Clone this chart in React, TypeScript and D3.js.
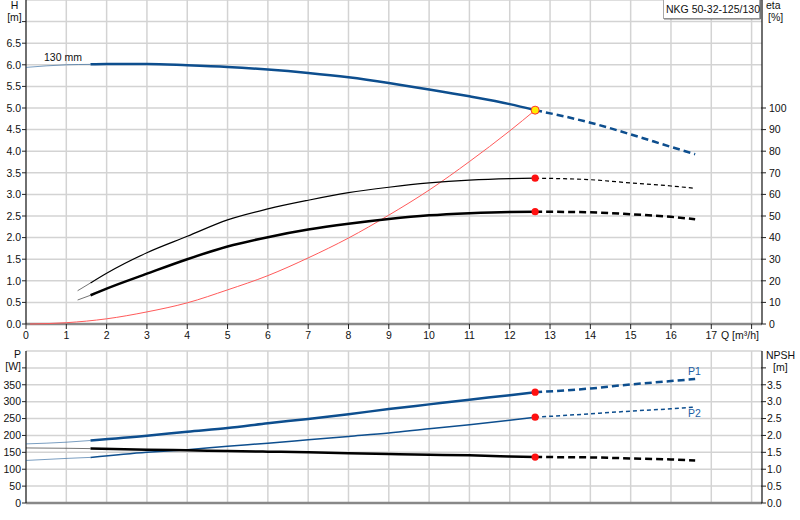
import React from "react";
import * as d3 from "d3";

// ---------- data ----------
const title = "NKG 50-32-125/130";
const impellerLabel = "130 mm";

const qTicks = [0, 1, 2, 3, 4, 5, 6, 7, 8, 9, 10, 11, 12, 13, 14, 15, 16, 17];
const qGrid = [1, 2, 3, 4, 5, 6, 7, 8, 9, 10, 11, 12, 13, 14, 15, 16, 17, 18];
const hTicks = [0, 0.5, 1, 1.5, 2, 2.5, 3, 3.5, 4, 4.5, 5, 5.5, 6, 6.5];
const hGrid = [0.5, 1, 1.5, 2, 2.5, 3, 3.5, 4, 4.5, 5, 5.5, 6, 6.5, 7, 7.5];
const etaTicks = [0, 10, 20, 30, 40, 50, 60, 70, 80, 90, 100];
const pTicks = [0, 50, 100, 150, 200, 250, 300, 350];
const pGrid = [50, 100, 150, 200, 250, 300, 350, 400, 450];
const npshTicks = [0, 0.5, 1, 1.5, 2, 2.5, 3, 3.5];

const qMinRec = 1.6; // start of recommended range
const qDuty = 12.63; // duty point flow

// Head curve (m)
const qHead = [0, 1, 1.6, 2, 3, 4, 5, 6, 7, 8, 9, 10, 11, 12, 12.63, 14, 15, 16, 16.6];
const head = [5.94, 6.0, 6.01, 6.02, 6.02, 5.99, 5.95, 5.89, 5.81, 5.71, 5.58, 5.43, 5.27, 5.09, 4.95, 4.66, 4.39, 4.1, 3.93];

// Efficiency curves (%)
const qEta = [1.28, 1.6, 2, 3, 4, 5, 6, 7, 8, 9, 10, 11, 12, 12.63, 14, 15, 16, 16.6];
const etaPump = [15.4, 19, 23.5, 33, 40.6, 48.2, 53.3, 57.3, 60.8, 63.3, 65.3, 66.6, 67.3, 67.5, 66.8, 65.3, 63.9, 62.8];
const etaTotal = [11.1, 13.3, 16.4, 23.3, 30, 35.9, 40.2, 43.7, 46.4, 48.6, 50.3, 51.3, 51.9, 52.0, 51.7, 50.8, 49.6, 48.5];

// System curve (m)
const qSys = [0.1, 1, 2, 3, 4, 5, 6, 7, 8, 9, 10, 11, 12, 12.63];
const hSys = [0, 0.03, 0.12, 0.28, 0.49, 0.79, 1.12, 1.53, 1.99, 2.52, 3.1, 3.76, 4.47, 4.95];

// Power & NPSH
const qLow = [0, 1, 1.6, 3, 4, 5, 6, 7, 8, 9, 10, 11, 12, 12.63, 14, 15, 16, 16.6];
const p1 = [175, 180, 185, 199, 211, 222, 236, 249, 263, 278, 292, 306, 319, 328, 339, 351, 361, 367];
const p2 = [126, 132, 135, 150, 158, 168, 177, 187, 197, 207, 220, 232, 245, 254, 264, 272, 279, 284];
const npsh = [1.63, 1.62, 1.61, 1.58, 1.56, 1.54, 1.52, 1.5, 1.47, 1.45, 1.43, 1.41, 1.38, 1.36, 1.35, 1.32, 1.29, 1.26];

// ---------- scales ----------
const x = d3.scaleLinear().domain([0, 18]).range([26, 751.6]);
const yH = d3.scaleLinear().domain([0, 7.5]).range([324, 0]);
const yEta = d3.scaleLinear().domain([0, 150]).range([324, 0]);
const yP = d3.scaleLinear().domain([0, 450]).range([503, 351]);
const yN = d3.scaleLinear().domain([0, 4.5]).range([503, 351]);

const BLUE = "#0d4e8e";
const FONT = "'Liberation Sans', Arial, sans-serif";
const X0 = 26;
const X1 = 762;

type Pt = [number, number];

function pick(qs: number[], vs: number[], lo: number, hi: number): Pt[] {
  const out: Pt[] = [];
  qs.forEach((q, i) => {
    if (q >= lo - 1e-9 && q <= hi + 1e-9) out.push([q, vs[i]]);
  });
  return out;
}

function mkLine(ys: d3.ScaleLinear<number, number>) {
  return d3
    .line<Pt>()
    .x((d) => x(d[0]))
    .y((d) => ys(d[1]))
    .curve(d3.curveMonotoneX);
}

function Curve({
  qs,
  vs,
  ys,
  color,
  width,
  dash,
}: {
  qs: number[];
  vs: number[];
  ys: d3.ScaleLinear<number, number>;
  color: string;
  width: number;
  dash: string;
}) {
  const ln = mkLine(ys);
  const start = pick(qs, vs, -1, qMinRec);
  const main = pick(qs, vs, qMinRec, qDuty);
  const tail = pick(qs, vs, qDuty, 100);
  return (
    <g fill="none">
      {start.length > 1 && (
        <path d={ln(start) || ""} stroke={color} strokeWidth={1} opacity={0.55} />
      )}
      <path d={ln(main) || ""} stroke={color} strokeWidth={width} />
      <path d={ln(tail) || ""} stroke={color} strokeWidth={width} strokeDasharray={dash} />
    </g>
  );
}

function valAt(qs: number[], vs: number[], q: number) {
  const i = qs.indexOf(q);
  return vs[i];
}

export default function App() {
  const fmt1 = d3.format(".1f");
  const sysLine = mkLine(yH);
  const gridColor = "#d3d3d3";
  return (
    <svg
      width={800}
      height={520}
      style={{ position: "absolute", left: 0, top: 0, background: "#fff" }}
      fontFamily={FONT}
      fontSize={10.5}
    >
      <rect width={800} height={520} fill="#fff" />

      {/* ---------- top chart grid ---------- */}
      <g stroke={gridColor} strokeWidth={1.5}>
        {qGrid.map((q) => (
          <line key={"tv" + q} x1={x(q)} x2={x(q)} y1={0} y2={324} />
        ))}
        {hGrid.map((h) => (
          <line key={"th" + h} x1={X0} x2={X1} y1={yH(h)} y2={yH(h)} />
        ))}
      </g>

      {/* ---------- bottom chart grid ---------- */}
      <g stroke={gridColor} strokeWidth={1.5}>
        {qGrid.map((q) => (
          <line key={"bv" + q} x1={x(q)} x2={x(q)} y1={351} y2={503} />
        ))}
        {pGrid.map((p) => (
          <line key={"bh" + p} x1={X0} x2={X1} y1={yP(p)} y2={yP(p)} />
        ))}
      </g>

      {/* ---------- axes top ---------- */}
      <line x1={X0} x2={X1} y1={324} y2={324} stroke="#888" strokeWidth={2.5} />
      <line x1={X0} x2={X0} y1={0} y2={324} stroke="#222" strokeWidth={1.3} />
      <line x1={X1} x2={X1} y1={0} y2={324} stroke="#222" strokeWidth={1.3} />
      <g stroke="#222" strokeWidth={1}>
        {[...qTicks, 18].map((q) => (
          <line key={"qt" + q} x1={x(q)} x2={x(q)} y1={324} y2={329} />
        ))}
        {[...hTicks, 7].map((h) => (
          <line key={"ht" + h} x1={X0 - 4} x2={X0} y1={yH(h)} y2={yH(h)} />
        ))}
        {etaTicks.map((e) => (
          <line key={"et" + e} x1={X1 - 1} x2={X1 + 4} y1={yEta(e)} y2={yEta(e)} />
        ))}
      </g>
      <g fill="#111">
        {qTicks.map((q) => (
          <text key={"ql" + q} x={x(q)} y={339} textAnchor="middle">
            {q}
          </text>
        ))}
        <text x={721} y={339}>
          Q [m³/h]
        </text>
        {hTicks.map((h) => (
          <text key={"hl" + h} x={21} y={yH(h) + 3.8} textAnchor="end">
            {fmt1(h)}
          </text>
        ))}
        {etaTicks.map((e) => (
          <text key={"el" + e} x={769} y={yEta(e) + 3.8}>
            {e}
          </text>
        ))}
        <text x={14.5} y={9} textAnchor="middle">H</text>
        <text x={14.5} y={21} textAnchor="middle">[m]</text>
        <text x={766} y={9}>eta</text>
        <text x={768} y={21}>[%]</text>
      </g>

      {/* ---------- axes bottom ---------- */}
      <line x1={X0} x2={X1} y1={503} y2={503} stroke="#888" strokeWidth={2.5} />
      <line x1={X0} x2={X0} y1={351} y2={503} stroke="#222" strokeWidth={1.3} />
      <line x1={X1} x2={X1} y1={351} y2={503} stroke="#222" strokeWidth={1.3} />
      <g stroke="#222" strokeWidth={1}>
        {[...pTicks, 400].map((p) => (
          <line key={"pt" + p} x1={X0 - 4} x2={X0} y1={yP(p)} y2={yP(p)} />
        ))}
        {[...npshTicks, 4].map((n) => (
          <line key={"nt" + n} x1={X1 - 1} x2={X1 + 4} y1={yN(n)} y2={yN(n)} />
        ))}
      </g>
      <g fill="#111">
        {pTicks.map((p) => (
          <text key={"pl" + p} x={21} y={yP(p) + 3.8} textAnchor="end">
            {p}
          </text>
        ))}
        {npshTicks.map((n) => (
          <text key={"nl" + n} x={767} y={yN(n) + 3.8}>
            {fmt1(n)}
          </text>
        ))}
        <text x={21} y={358} textAnchor="end">P</text>
        <text x={21} y={370} textAnchor="end">[W]</text>
        <text x={766} y={359}>NPSH</text>
        <text x={773} y={371}>[m]</text>
      </g>

      {/* ---------- top curves ---------- */}
      <path
        d={sysLine(qSys.map((q, i) => [q, hSys[i]] as Pt)) || ""}
        fill="none"
        stroke="#ff5a5a"
        strokeWidth={1}
      />
      <Curve qs={qEta} vs={etaPump} ys={yEta} color="#000" width={1.2} dash="4,3" />
      <Curve qs={qEta} vs={etaTotal} ys={yEta} color="#000" width={2.5} dash="7,4" />
      <Curve qs={qHead} vs={head} ys={yH} color={BLUE} width={2.5} dash="7,4" />

      <text x={44} y={61} fill="#111">
        {impellerLabel}
      </text>

      <circle cx={x(qDuty)} cy={yEta(valAt(qEta, etaPump, qDuty))} r={3.6} fill="#ff1010" />
      <circle cx={x(qDuty)} cy={yEta(valAt(qEta, etaTotal, qDuty))} r={3.6} fill="#ff1010" />
      <circle
        cx={x(qDuty)}
        cy={yH(valAt(qHead, head, qDuty))}
        r={4}
        fill="#ffee00"
        stroke="#ff3030"
        strokeWidth={1}
      />

      {/* ---------- bottom curves ---------- */}
      <Curve qs={qLow} vs={p2} ys={yP} color={BLUE} width={1.5} dash="4,3" />
      <Curve qs={qLow} vs={p1} ys={yP} color={BLUE} width={2.5} dash="7,4" />
      <Curve qs={qLow} vs={npsh} ys={yN} color="#000" width={2.5} dash="7,4" />
      <circle cx={x(qDuty)} cy={yP(valAt(qLow, p1, qDuty))} r={3.6} fill="#ff1010" />
      <circle cx={x(qDuty)} cy={yP(valAt(qLow, p2, qDuty))} r={3.6} fill="#ff1010" />
      <circle cx={x(qDuty)} cy={yN(valAt(qLow, npsh, qDuty))} r={3.6} fill="#ff1010" />
      <text x={688} y={375} fill="#1d5fa5">P1</text>
      <text x={688} y={417} fill="#1d5fa5">P2</text>

      {/* ---------- title box ---------- */}
      <rect x={663.5} y={-0.5} width={96} height={19} fill="#fff" stroke="#a8a8a8" />
      <line x1={664} x2={760.5} y1={19} y2={19} stroke="#777" />
      <line x1={760.5} x2={760.5} y1={0} y2={19} stroke="#777" />
      <text x={666} y={12.5} fontSize={10.5} fill="#111">
        {title}
      </text>
    </svg>
  );
}
